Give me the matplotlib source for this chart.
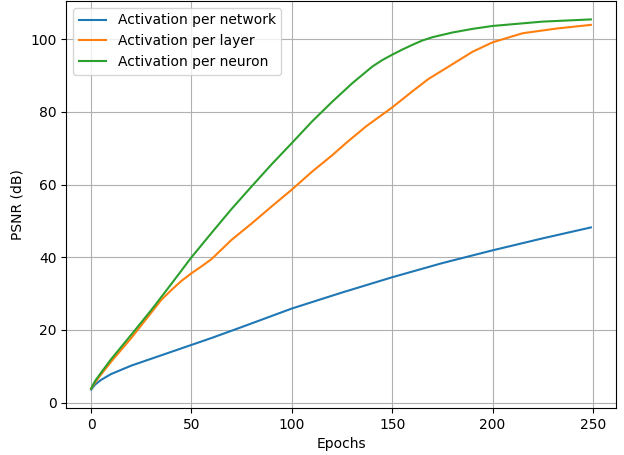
import matplotlib
matplotlib.use("Agg")
import matplotlib.pyplot as plt

# PSNR (dB) at these epochs
epochs_network = [0, 2, 5, 10, 20, 30, 40, 50, 60, 75, 100, 125, 150, 175, 200, 225, 249]
psnr_network = [3.6, 5.0, 6.3, 7.9, 10.2, 12.1, 14.0, 15.9, 17.8, 20.8, 25.9, 30.3, 34.5, 38.4, 41.9, 45.2, 48.2]

epochs_layer = [0, 2, 5, 10, 20, 30, 35, 40, 45, 50, 55, 60, 70, 80, 90, 100, 110, 120, 127, 137,
                150, 160, 168, 178, 190, 200, 215, 232, 249]
psnr_layer = [3.9, 5.6, 7.8, 11.3, 17.8, 24.8, 28.3, 31.0, 33.5, 35.6, 37.5, 39.5, 44.8, 49.3, 54.0,
              58.6, 63.5, 68.0, 71.4, 76.0, 81.2, 85.6, 89.0, 92.4, 96.5, 99.1, 101.6, 102.9, 103.9]

epochs_neuron = [0, 2, 5, 10, 20, 30, 40, 50, 60, 70, 80, 90, 100, 110, 120, 130, 140, 145, 150, 155,
                 160, 165, 170, 180, 190, 200, 225, 249]
psnr_neuron = [3.9, 6.0, 8.3, 12.0, 18.7, 25.5, 32.7, 40.0, 46.7, 53.3, 59.5, 65.6, 71.4, 77.3, 82.7,
               87.8, 92.4, 94.2, 95.7, 97.1, 98.4, 99.6, 100.5, 101.8, 102.8, 103.6, 104.8, 105.4]

fig, ax = plt.subplots(figsize=(6.24, 4.55), dpi=100)
fig.subplots_adjust(left=0.106, right=0.987, bottom=0.103, top=0.998)

ax.plot(epochs_network, psnr_network, label="Activation per network")
ax.plot(epochs_layer, psnr_layer, label="Activation per layer")
ax.plot(epochs_neuron, psnr_neuron, label="Activation per neuron")

ax.set_xlabel("Epochs")
ax.set_ylabel("PSNR (dB)")
ax.grid(True)
ax.legend(loc="upper left")

fig.savefig("out.png")
